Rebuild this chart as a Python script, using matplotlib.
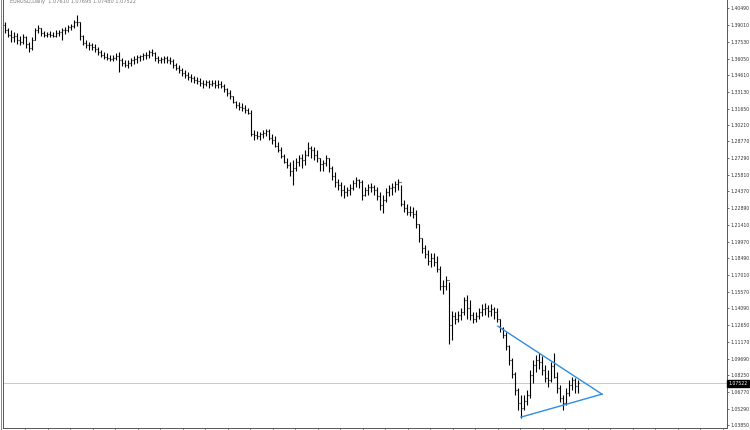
import matplotlib
matplotlib.use("Agg")
import matplotlib.pyplot as plt
from matplotlib.lines import Line2D
import numpy as np

# daily EURUSD bars (high, low, close); open = previous close
highs = [1.393, 1.387, 1.386, 1.384, 1.383, 1.380, 1.382, 1.380, 1.375, 1.379, 1.387, 1.390,
         1.387, 1.385, 1.384, 1.385, 1.384, 1.386, 1.386, 1.387, 1.388, 1.390, 1.391, 1.394,
         1.399, 1.393, 1.381, 1.377, 1.375, 1.374, 1.373, 1.371, 1.368, 1.366, 1.365, 1.364,
         1.364, 1.365, 1.366, 1.361, 1.359, 1.359, 1.361, 1.363, 1.364, 1.364, 1.365, 1.366,
         1.368, 1.369, 1.366, 1.363, 1.362, 1.363, 1.363, 1.362, 1.360, 1.357, 1.355, 1.352,
         1.350, 1.349, 1.347, 1.345, 1.344, 1.343, 1.342, 1.342, 1.342, 1.342, 1.342, 1.342,
         1.341, 1.338, 1.335, 1.333, 1.328, 1.323, 1.322, 1.321, 1.320, 1.317, 1.315, 1.298,
         1.297, 1.296, 1.298, 1.299, 1.299, 1.294, 1.292, 1.287, 1.283, 1.277, 1.273, 1.270,
         1.271, 1.273, 1.276, 1.277, 1.280, 1.287, 1.284, 1.283, 1.280, 1.273, 1.271, 1.276,
         1.273, 1.266, 1.261, 1.255, 1.252, 1.249, 1.248, 1.250, 1.254, 1.256, 1.255, 1.254,
         1.248, 1.250, 1.251, 1.249, 1.248, 1.243, 1.241, 1.247, 1.249, 1.251, 1.253, 1.255,
         1.249, 1.236, 1.233, 1.231, 1.230, 1.227, 1.215, 1.203, 1.197, 1.192, 1.190, 1.190,
         1.187, 1.178, 1.166, 1.169, 1.164, 1.139, 1.138, 1.139, 1.141, 1.151, 1.153, 1.148,
         1.138, 1.138, 1.141, 1.145, 1.146, 1.144, 1.145, 1.142, 1.141, 1.132, 1.125, 1.120,
         1.109, 1.097, 1.085, 1.071, 1.065, 1.065, 1.069, 1.087, 1.096, 1.100, 1.102, 1.099,
         1.091, 1.087, 1.094, 1.102, 1.085, 1.074, 1.065, 1.071, 1.078, 1.081, 1.080, 1.078]
lows = [1.383, 1.379, 1.375, 1.375, 1.373, 1.372, 1.373, 1.370, 1.366, 1.368, 1.377, 1.383,
        1.380, 1.379, 1.379, 1.379, 1.379, 1.379, 1.380, 1.377, 1.382, 1.384, 1.386, 1.387,
        1.389, 1.377, 1.372, 1.370, 1.368, 1.368, 1.366, 1.364, 1.362, 1.360, 1.359, 1.358,
        1.358, 1.359, 1.349, 1.354, 1.353, 1.352, 1.354, 1.356, 1.357, 1.358, 1.359, 1.360,
        1.361, 1.363, 1.358, 1.357, 1.357, 1.357, 1.357, 1.356, 1.352, 1.350, 1.348, 1.345,
        1.343, 1.342, 1.340, 1.339, 1.338, 1.336, 1.335, 1.336, 1.335, 1.336, 1.335, 1.335,
        1.335, 1.331, 1.328, 1.325, 1.321, 1.317, 1.315, 1.314, 1.313, 1.312, 1.292, 1.289,
        1.290, 1.289, 1.291, 1.292, 1.289, 1.285, 1.283, 1.278, 1.273, 1.269, 1.264, 1.257,
        1.249, 1.262, 1.266, 1.264, 1.267, 1.275, 1.273, 1.271, 1.270, 1.262, 1.262, 1.266,
        1.261, 1.254, 1.248, 1.245, 1.240, 1.238, 1.240, 1.241, 1.245, 1.248, 1.247, 1.236,
        1.240, 1.241, 1.243, 1.241, 1.236, 1.227, 1.225, 1.234, 1.240, 1.241, 1.243, 1.245,
        1.231, 1.226, 1.223, 1.222, 1.220, 1.212, 1.199, 1.190, 1.185, 1.179, 1.177, 1.178,
        1.173, 1.157, 1.154, 1.157, 1.110, 1.113, 1.127, 1.129, 1.131, 1.135, 1.132, 1.131,
        1.128, 1.129, 1.132, 1.134, 1.135, 1.133, 1.134, 1.132, 1.129, 1.120, 1.115, 1.104,
        1.091, 1.080, 1.065, 1.052, 1.045, 1.052, 1.056, 1.062, 1.075, 1.085, 1.088, 1.082,
        1.076, 1.072, 1.076, 1.080, 1.067, 1.059, 1.052, 1.056, 1.064, 1.069, 1.067, 1.067]
closes = [1.386, 1.381, 1.379, 1.380, 1.377, 1.375, 1.379, 1.373, 1.370, 1.377, 1.386, 1.387,
          1.383, 1.381, 1.382, 1.381, 1.380, 1.383, 1.384, 1.386, 1.386, 1.388, 1.389, 1.393,
          1.393, 1.380, 1.374, 1.372, 1.372, 1.371, 1.369, 1.366, 1.364, 1.362, 1.361, 1.360,
          1.361, 1.363, 1.359, 1.357, 1.355, 1.357, 1.359, 1.360, 1.362, 1.363, 1.364, 1.364,
          1.366, 1.365, 1.361, 1.359, 1.360, 1.361, 1.359, 1.358, 1.355, 1.352, 1.350, 1.348,
          1.346, 1.344, 1.343, 1.342, 1.341, 1.339, 1.338, 1.340, 1.338, 1.339, 1.337, 1.338,
          1.336, 1.334, 1.330, 1.328, 1.322, 1.320, 1.318, 1.317, 1.315, 1.313, 1.294, 1.293,
          1.292, 1.294, 1.295, 1.297, 1.291, 1.289, 1.284, 1.280, 1.275, 1.270, 1.267, 1.262,
          1.264, 1.270, 1.273, 1.271, 1.276, 1.282, 1.280, 1.276, 1.273, 1.268, 1.269, 1.273,
          1.264, 1.257, 1.252, 1.249, 1.245, 1.243, 1.245, 1.247, 1.251, 1.254, 1.252, 1.241,
          1.245, 1.248, 1.248, 1.245, 1.240, 1.232, 1.236, 1.243, 1.247, 1.248, 1.250, 1.252,
          1.233, 1.229, 1.226, 1.226, 1.224, 1.215, 1.203, 1.194, 1.189, 1.183, 1.185, 1.182,
          1.176, 1.161, 1.161, 1.166, 1.126, 1.134, 1.132, 1.135, 1.138, 1.148, 1.141, 1.135,
          1.132, 1.134, 1.138, 1.140, 1.141, 1.139, 1.140, 1.138, 1.132, 1.124, 1.118, 1.108,
          1.096, 1.083, 1.069, 1.058, 1.053, 1.060, 1.065, 1.082, 1.091, 1.096, 1.094, 1.087,
          1.080, 1.078, 1.090, 1.081, 1.071, 1.062, 1.058, 1.067, 1.074, 1.078, 1.073, 1.07522]
first_open = 1.390

# right axis price labels
price_ticks = [1.40490, 1.39010, 1.37530, 1.36050, 1.34610, 1.33130, 1.31650, 1.30210,
               1.28770, 1.27290, 1.25810, 1.24370, 1.22890, 1.21410, 1.19970, 1.18490,
               1.17010, 1.15570, 1.14090, 1.12650, 1.11170, 1.09690, 1.08250, 1.06770,
               1.05290, 1.03850]
last_price = 1.07522

# triangle trend lines (bar index, price)
upper_x = [164.3, 199.0]
upper_y = [1.1253, 1.0656]
lower_x = [172.0, 199.0]
lower_y = [1.0454, 1.0656]

n = len(closes)
idx = np.arange(n)
opens = [first_open] + closes[:-1]

fig = plt.figure(figsize=(7.5, 4.3), dpi=100)
ax = fig.add_axes([3 / 750, 2 / 430, 724 / 750, 428 / 430])

# OHLC bars
ax.vlines(idx, lows, highs, color='black', linewidth=0.8)
ax.hlines(opens, idx - 0.4, idx, color='black', linewidth=0.8)
ax.hlines(closes, idx, idx + 0.4, color='black', linewidth=0.8)

# current price line
ax.axhline(last_price, color='#c0c0c0', linewidth=0.6, zorder=0)

# triangle
ax.plot(upper_x, upper_y, color='#2f8ee0', linewidth=1.0)
ax.plot(lower_x, lower_y, color='#2f8ee0', linewidth=1.0)

ax.set_xlim(-0.67, 240.67)
ax.set_ylim(1.03585, 1.41193)

ax.yaxis.tick_right()
ax.set_yticks(price_ticks)
ax.set_yticklabels(['%.5f' % v for v in price_ticks])
ax.tick_params(axis='y', labelsize=3.3, length=1.5, width=0.5, pad=1, colors='#333333')
ax.set_xticks(np.arange(6.67, 240, 7.5))
ax.tick_params(axis='x', labelbottom=False, length=1.5, width=0.5, colors='#555555')

for s in ['left', 'right', 'bottom']:
    ax.spines[s].set_color('#555555')
    ax.spines[s].set_linewidth(0.7)
ax.spines['top'].set_visible(False)

# outer window border on the far left
fig.add_artist(Line2D([1 / 750, 1 / 750], [0, 1], color='#888888', linewidth=0.7))

# price box
ax.text(1.002, last_price, '%.5f' % last_price, transform=ax.get_yaxis_transform(),
        fontsize=3.3, color='white', va='center', ha='left',
        bbox=dict(boxstyle='square,pad=0.25', facecolor='black', edgecolor='black'))

# header text (cut off at the top, like the screenshot)
fig.text(0.013, 1 - 1 / 430, 'EURUSD,Daily  1.07610 1.07695 1.07480 1.07522',
         fontsize=3.6, color='#777777', va='center', ha='left')

fig.savefig('out.png', dpi=100)
